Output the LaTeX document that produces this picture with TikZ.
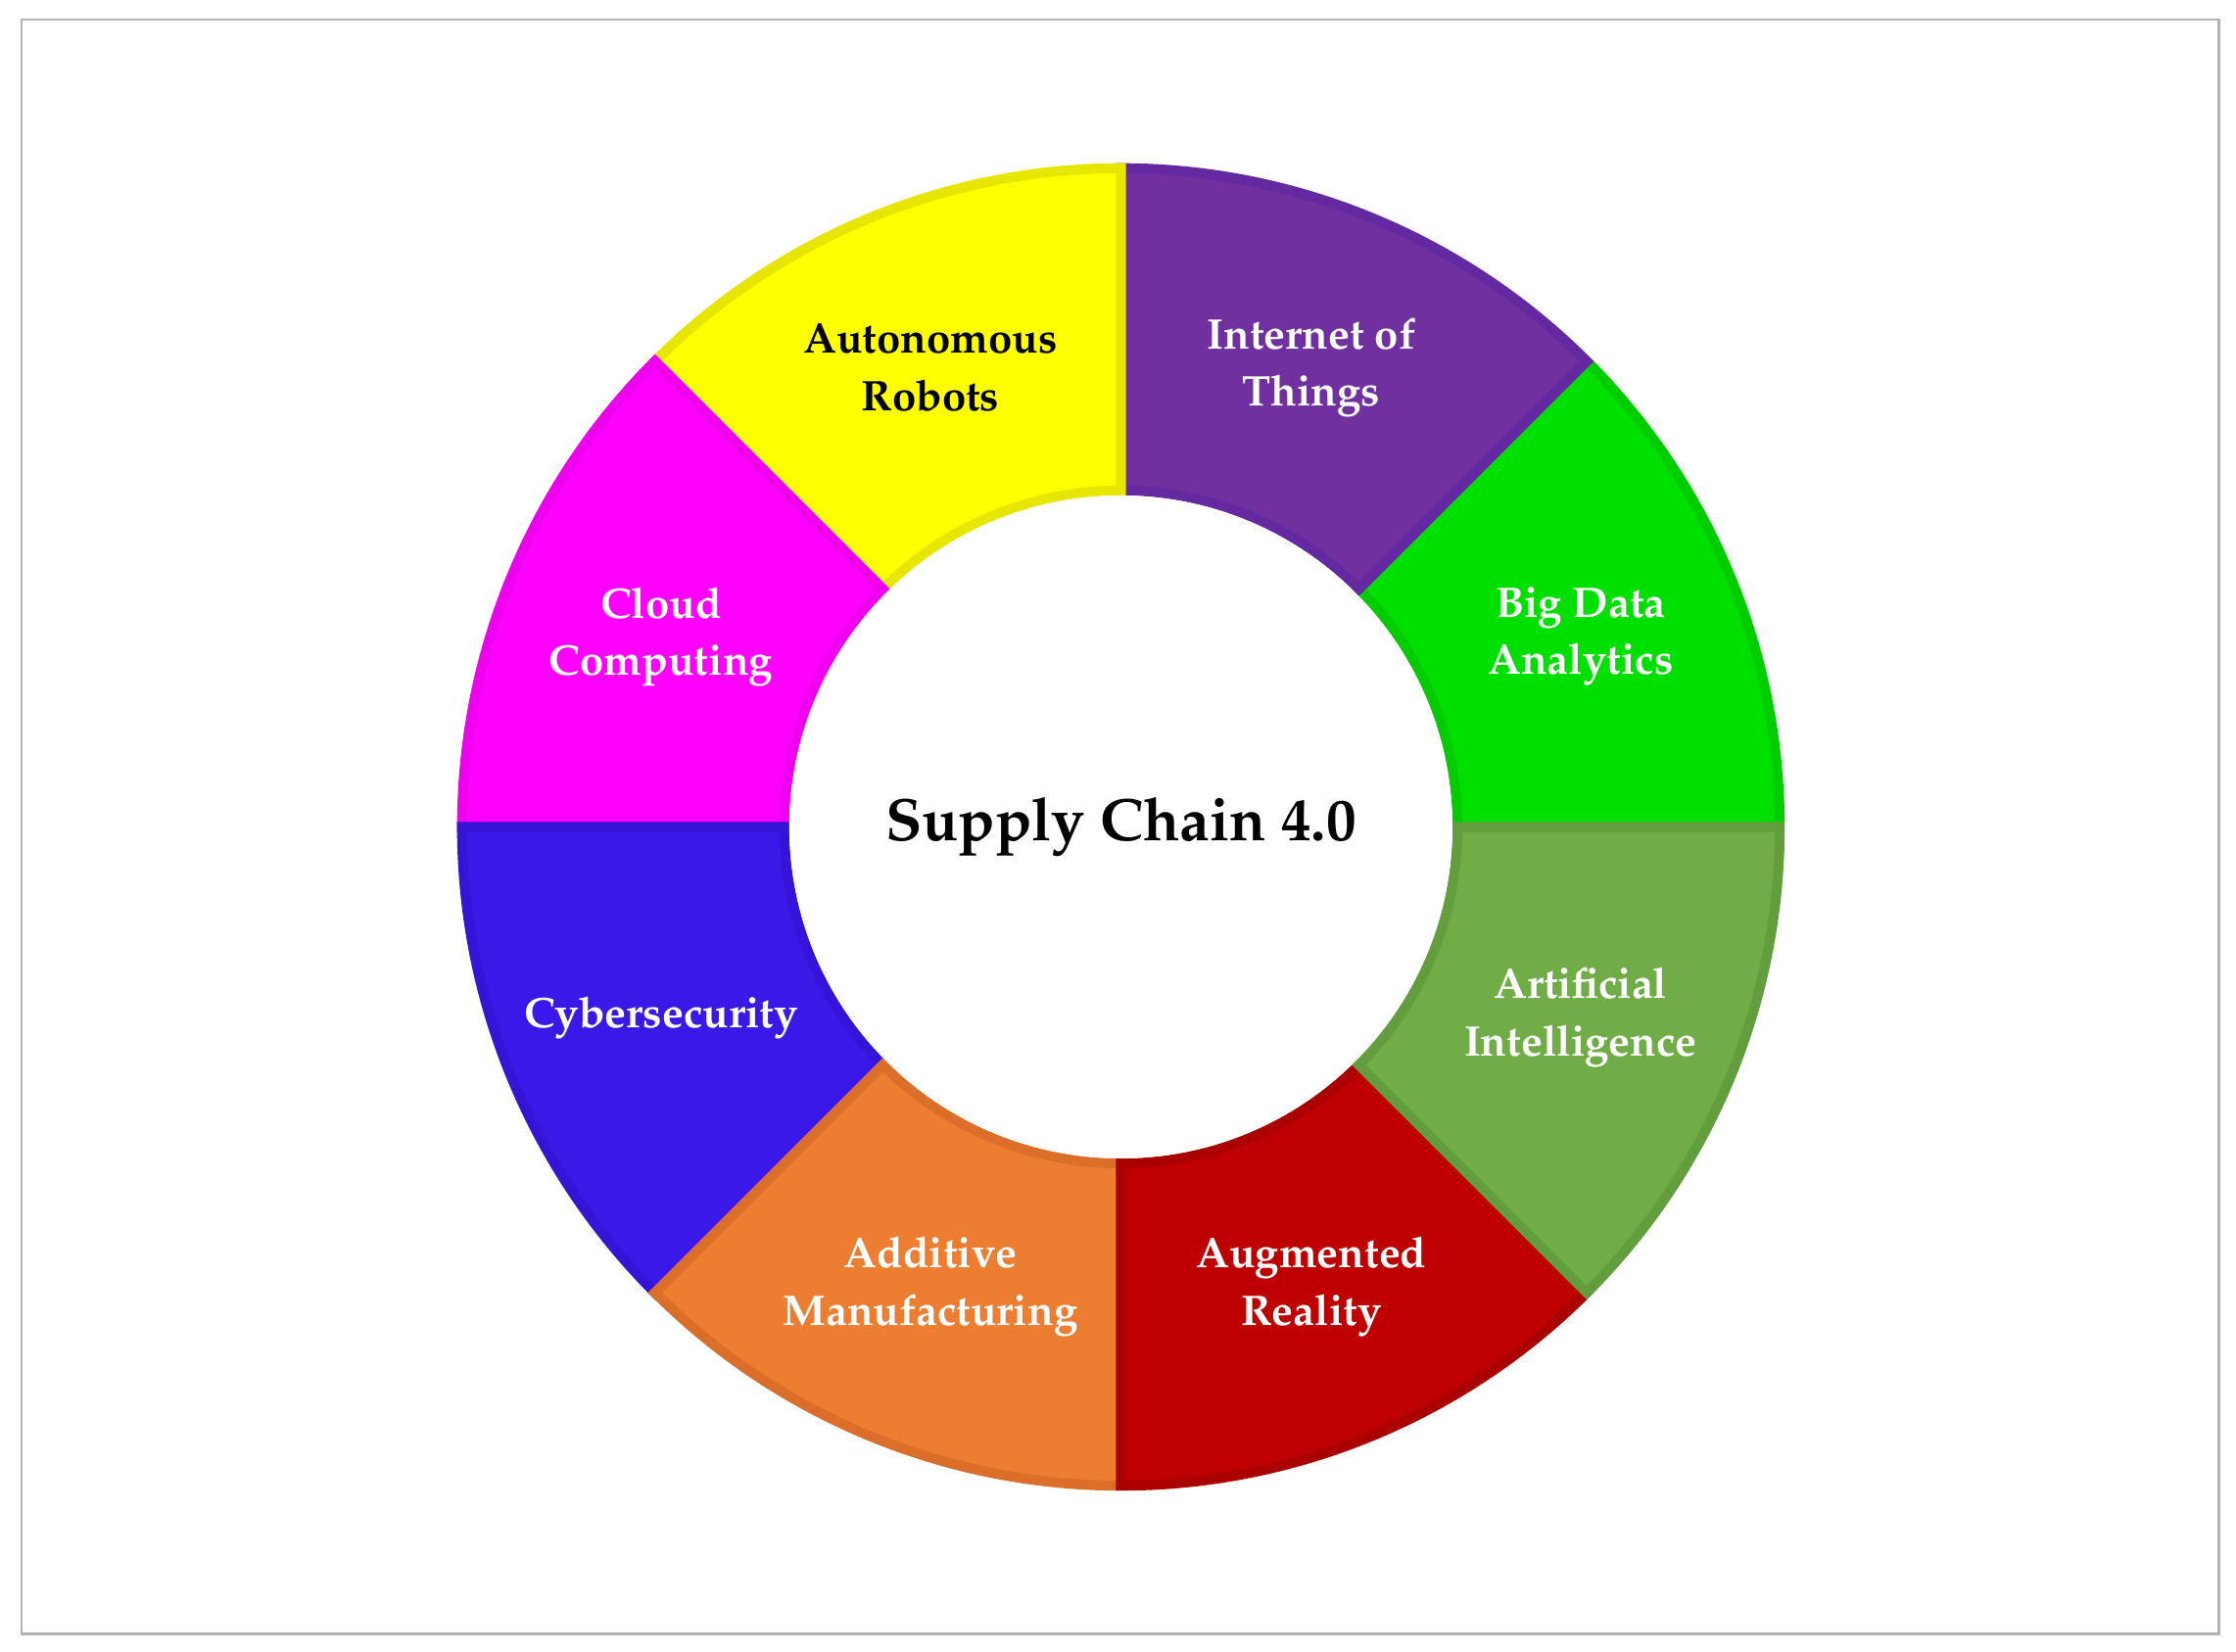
\documentclass[tikz,border=0pt]{standalone}
\usepackage[T1]{fontenc}
\usepackage{mathpazo}
\begin{document}
\begin{tikzpicture}[x=1pt,y=1pt,
  lbl/.style={font=\fontsize{30}{40}\selectfont\bfseries, align=center, text=white},
  seg/.style={line width=7pt, line join=miter}]
\useasboundingbox (0,0) rectangle (1568,1158);
\fill[white] (0,0) rectangle (1568,1158);
\draw[gray!60, line width=1.5pt] (15,12) rectangle (1556,1144);
\coordinate (c) at (786,578);
\def\ro{462}\def\ri{236}
\foreach \a/\fc/\dc in {0/00E000/00CC00, 45/7030A0/6428A0, 90/FFFF00/E6E600, 135/FF00FF/EE00EE,
  180/3A18E8/3514D8, 225/ED7D31/DB6E28, 270/BE0000/AA0000, 315/70AD47/629E3D}{
  \definecolor{fc}{HTML}{\fc}\definecolor{dc}{HTML}{\dc}
  \filldraw[seg, fill=fc, draw=dc] ([shift={(\a:\ri)}]c) -- ([shift={(\a:\ro)}]c)
    arc[start angle=\a, end angle=\a+45, radius=\ro]
    -- ([shift={(\a+45:\ri)}]c) arc[start angle=\a+45, end angle=\a, radius=\ri] -- cycle;
}
\fill[white] (c) circle (\ri-3.5);
\node[font=\fontsize{42}{50}\selectfont\bfseries] (sc) at (c) {Supply Chain 4.0};
\node[lbl] (bd) at ([shift={(22.5:349)}]c) {Big Data\\Analytics};
\node[lbl] (iot) at ([shift={(67.5:349)}]c) {Internet of\\Things};
\node[lbl, text=black] (ar) at ([shift={(112.5:349)}]c) {Autonomous\\Robots};
\node[lbl] (cc) at ([shift={(157.5:349)}]c) {Cloud\\Computing};
\node[lbl] (cy) at ([shift={(202.5:349)}]c) {Cybersecurity};
\node[lbl] (am) at ([shift={(247.5:349)}]c) {Additive\\Manufacturing};
\node[lbl] (aug) at ([shift={(292.5:349)}]c) {Augmented\\Reality};
\node[lbl] (ai) at ([shift={(337.5:349)}]c) {Artificial\\Intelligence};
\end{tikzpicture}
\end{document}
